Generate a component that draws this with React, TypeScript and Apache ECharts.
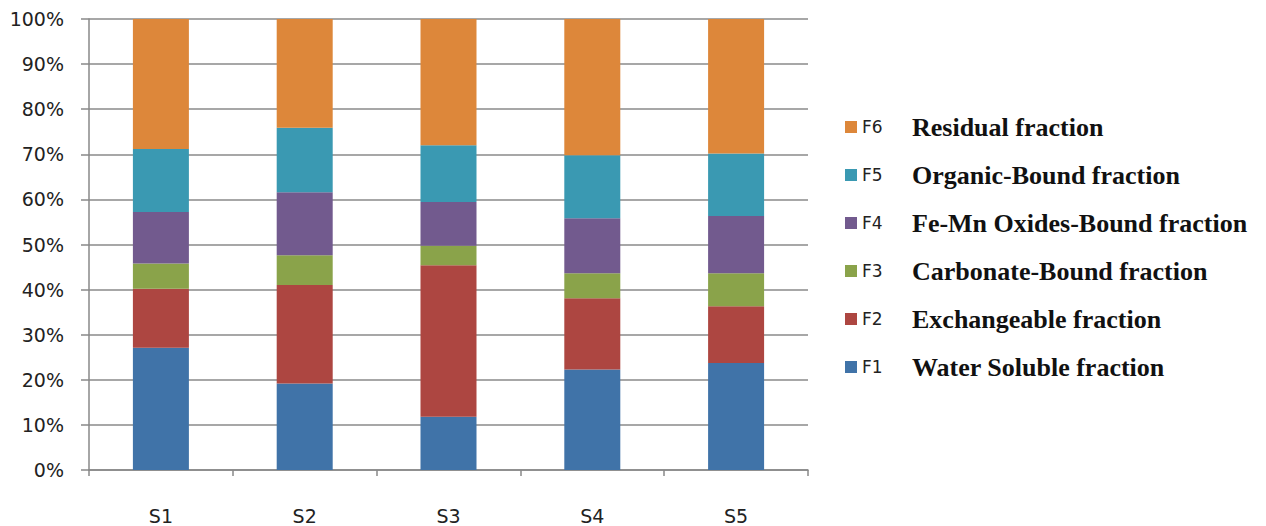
import React, { useEffect, useRef } from "react";
import * as echarts from "echarts";

const categories = ["S1", "S2", "S3", "S4", "S5"];
const seriesNames = ["F1", "F2", "F3", "F4", "F5", "F6"];
const seriesDescriptions = [
  "Water Soluble fraction",
  "Exchangeable fraction",
  "Carbonate-Bound fraction",
  "Fe-Mn Oxides-Bound fraction",
  "Organic-Bound fraction",
  "Residual fraction",
];
const f1 = [27.1, 19.2, 11.8, 22.3, 23.7];
const f2 = [13.1, 21.8, 33.6, 15.8, 12.6];
const f3 = [5.6, 6.6, 4.3, 5.5, 7.3];
const f4 = [11.4, 14.0, 9.7, 12.2, 12.7];
const f5 = [14.0, 14.3, 12.6, 14.0, 13.9];
const f6 = [28.8, 24.1, 28.0, 30.2, 29.8];
const seriesValues = [f1, f2, f3, f4, f5, f6];
const colors = ["#4073A8", "#AD4641", "#8AA34A", "#725A8E", "#3A99B2", "#DD873A"];
const yTicks = [0, 10, 20, 30, 40, 50, 60, 70, 80, 90, 100];

export default function App() {
  const ref = useRef<HTMLDivElement>(null);
  useEffect(() => {
    document.body.style.margin = "0";
    if (!ref.current) return;
    const chart = echarts.init(ref.current, undefined, { renderer: "svg" });
    const descMap: Record<string, string> = {};
    seriesNames.forEach((n, i) => (descMap[n] = seriesDescriptions[i]));
    chart.setOption({
      animation: false,
      backgroundColor: "#ffffff",
      grid: { left: 89, right: 458, top: 19, bottom: 56, containLabel: false },
      legend: {
        orient: "vertical",
        left: 840,
        top: 109,
        itemWidth: 12,
        itemHeight: 12,
        itemGap: 22,
        icon: "rect",
        data: [...seriesNames].reverse(),
        formatter: (name: string) => `{a|${name}}{b|${descMap[name]}}`,
        textStyle: {
          rich: {
            a: { fontFamily: "DejaVu Sans", fontSize: 17, color: "#222", width: 50, lineHeight: 24 },
            b: {
              fontFamily: "Liberation Serif",
              fontWeight: "bold",
              fontSize: 26,
              color: "#111",
              lineHeight: 24,
            },
          },
        },
      },
      xAxis: {
        type: "category",
        data: categories,
        axisLine: { lineStyle: { color: "#888", width: 1.5 } },
        axisTick: { show: true, length: 6, lineStyle: { color: "#888", width: 1.5 } },
        axisLabel: { fontFamily: "DejaVu Sans", fontSize: 19, color: "#222", margin: 36 },
      },
      yAxis: {
        type: "value",
        min: 0,
        max: 100,
        interval: 10,
        axisLine: { show: true, lineStyle: { color: "#888", width: 1.5 } },
        axisTick: { show: true, length: 8, lineStyle: { color: "#888", width: 1.5 } },
        splitLine: { lineStyle: { color: "#8a8a8a", width: 1.5 } },
        axisLabel: {
          fontFamily: "DejaVu Sans",
          fontSize: 19,
          color: "#222",
          margin: 25,
          formatter: (v: number) => (yTicks.includes(v) ? `${v}%` : ""),
        },
      },
      series: seriesNames.map((name, i) => ({
        name,
        type: "bar",
        stack: "total",
        barWidth: 56,
        data: seriesValues[i],
        itemStyle: { color: colors[i] },
      })),
    });
    return () => chart.dispose();
  }, []);
  return <div ref={ref} style={{ width: 1266, height: 526 }} />;
}
